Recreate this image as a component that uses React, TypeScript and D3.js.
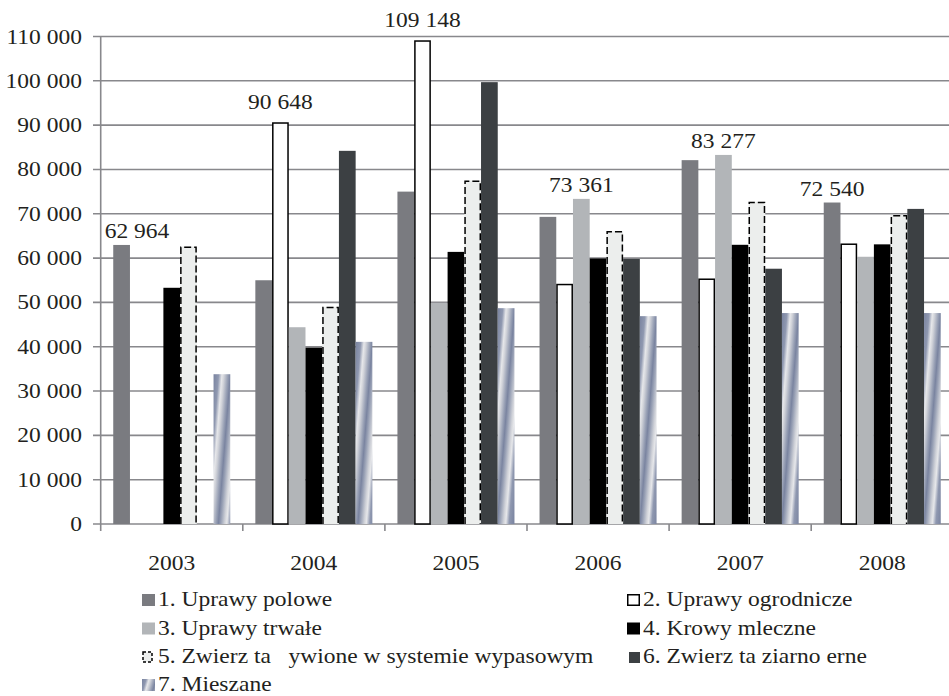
import { useEffect, useRef } from "react";
import * as d3 from "d3";

const years = ["2003", "2004", "2005", "2006", "2007", "2008"];
const seriesNames = [
  "1. Uprawy polowe",
  "2. Uprawy ogrodnicze",
  "3. Uprawy trwałe",
  "4. Krowy mleczne",
  "5. Zwierz ta   ywione w systemie wypasowym",
  "6. Zwierz ta ziarno erne",
  "7. Mieszane",
];
const uprawyPolowe = [62964, 55000, 75000, 69300, 82100, 72540];
const uprawyOgrodnicze = [0, 90648, 109148, 54200, 55400, 63300];
const uprawyTrwale = [0, 44400, 49900, 73361, 83277, 60300];
const krowyMleczne = [53300, 39800, 61400, 59900, 63000, 63100];
const zwierzetaWypas = [62600, 49000, 77500, 66100, 72700, 69700];
const zwierzetaZiarno = [0, 84200, 99700, 59800, 57600, 71100];
const mieszane = [33800, 41100, 48700, 46900, 47600, 47600];
const yTicks = [0, 10000, 20000, 30000, 40000, 50000, 60000, 70000, 80000, 90000, 100000, 110000];

const seriesValues = [
  uprawyPolowe,
  uprawyOgrodnicze,
  uprawyTrwale,
  krowyMleczne,
  zwierzetaWypas,
  zwierzetaZiarno,
  mieszane,
];

const W = 949;
const H = 696;
const SX = 1.12;
const FONT = "Liberation Serif, Tinos, Times New Roman, Times, serif";
const TEXT = "#231f20";
const GRID = "#88888c";
const fills = ["#7a7b80", "#ffffff", "#b2b5b8", "#000000", "#eceeed", "#3c4043", "url(#mix)"];

export default function App() {
  const svgRef = useRef<SVGSVGElement>(null);

  useEffect(() => {
    if (!svgRef.current) return;
    const svg = d3.select(svgRef.current);
    svg.selectAll("*").remove();

    const left = 100.7;
    const step = 142.1;
    const x0 = d3.scaleBand<string>().domain(years).range([left, left + step * years.length]);
    const x1 = d3
      .scaleBand<number>()
      .domain(d3.range(seriesNames.length))
      .range([0, x0.bandwidth()])
      .paddingInner(0)
      .paddingOuter(0.75);
    const y = d3.scaleLinear().domain([0, 110000]).range([524, 36.5]);
    const fmt = (v: number) => d3.format(",")(v).replace(/,/g, " ");

    const defs = svg.append("defs");
    const stops: [number, string][] = [
      [0, "#7a84a0"],
      [0.3, "#8f98b0"],
      [0.5, "#e6e7ea"],
      [0.62, "#d2d4da"],
      [0.85, "#9aa2b6"],
      [1, "#7a84a0"],
    ];
    const addGrad = (id: string, x: number, yy: number, w: number, tilt: number) => {
      const gr = defs
        .append("linearGradient")
        .attr("id", id)
        .attr("gradientUnits", "userSpaceOnUse")
        .attr("x1", x)
        .attr("y1", yy)
        .attr("x2", x + w)
        .attr("y2", yy + w * tilt)
        .attr("spreadMethod", "reflect");
      stops.forEach(([o, c]) => gr.append("stop").attr("offset", o).attr("stop-color", c));
    };

    const text = (
      g: d3.Selection<any, unknown, null, undefined>,
      x: number,
      yy: number,
      s: string,
      anchor: string,
    ) =>
      g
        .append("text")
        .attr("transform", `translate(${x},${yy}) scale(${SX},1)`)
        .attr("text-anchor", anchor)
        .style("font-family", FONT)
        .style("font-size", "21px")
        .attr("fill", TEXT)
        .style("white-space", "pre")
        .text(s);

    // grid + y axis
    const grid = svg.append("g");
    yTicks.forEach((t) => {
      grid
        .append("line")
        .attr("x1", 93)
        .attr("x2", W)
        .attr("y1", y(t))
        .attr("y2", y(t))
        .attr("stroke", GRID)
        .attr("stroke-width", 1.6);
      text(grid, 82, y(t) + 7, fmt(t), "end");
    });
    grid
      .append("line")
      .attr("x1", left)
      .attr("x2", left)
      .attr("y1", y(110000))
      .attr("y2", 531)
      .attr("stroke", GRID)
      .attr("stroke-width", 1.6);
    years.forEach((yr) => {
      const bx = x0(yr)!;
      if (bx > left) {
        grid
          .append("line")
          .attr("x1", bx)
          .attr("x2", bx)
          .attr("y1", 524)
          .attr("y2", 531)
          .attr("stroke", GRID)
          .attr("stroke-width", 1.6);
      }
      text(grid, bx + x0.bandwidth() / 2, 570, yr, "middle");
    });

    // bars
    const bars = svg.append("g");
    years.forEach((yr, yi) => {
      seriesValues.forEach((vals, si) => {
        const v = vals[yi];
        if (!v) return;
        const bx = x0(yr)! + x1(si)!;
        const bw = x1.bandwidth();
        const top = y(v);
        const h = y(0) - top;
        if (si === 1) {
          bars
            .append("rect")
            .attr("x", bx + 0.75)
            .attr("y", top + 0.75)
            .attr("width", bw - 1.5)
            .attr("height", h - 0.75)
            .attr("fill", "#fff")
            .attr("stroke", "#000")
            .attr("stroke-width", 1.5);
        } else if (si === 4) {
          bars.append("rect").attr("x", bx).attr("y", top).attr("width", bw).attr("height", h).attr("fill", fills[si]);
          bars
            .append("path")
            .attr("d", `M${bx + 0.75},${y(0)}V${top + 0.75}H${bx + bw - 0.75}V${y(0)}`)
            .attr("fill", "none")
            .attr("stroke", "#000")
            .attr("stroke-width", 1.5)
            .attr("stroke-dasharray", "7,3");
        } else if (si === 6) {
          addGrad(`mix${yi}`, bx, top, bw, 0.08);
          bars
            .append("rect")
            .attr("x", bx)
            .attr("y", top)
            .attr("width", bw)
            .attr("height", h)
            .attr("fill", `url(#mix${yi})`);
        } else {
          bars
            .append("rect")
            .attr("x", bx)
            .attr("y", top)
            .attr("width", bw)
            .attr("height", h)
            .attr("fill", fills[si]);
        }
      });
    });

    // value labels on the largest bar of each year
    const labels = svg.append("g");
    years.forEach((yr, yi) => {
      const vals = seriesValues.map((s) => s[yi]);
      const si = d3.maxIndex(vals);
      const v = vals[si];
      const cx = x0(yr)! + x1(si)! + x1.bandwidth() / 2;
      const gap = si === 1 ? 13 : 7;
      const t = text(labels, cx, y(v) - gap, fmt(v), "middle");
      const w = (t.node() as SVGTextElement).getComputedTextLength() * SX;
      if (cx - w / 2 < left + 4) {
        t.attr("transform", `translate(${left + 4 + w / 2},${y(v) - gap}) scale(${SX},1)`);
      }
    });

    // legend
    const legend = svg.append("g");
    const cols = [142, 627];
    const rowY = [606, 634.5, 663, 691];
    seriesNames.forEach((name, i) => {
      const cx = cols[i % 2];
      const ry = rowY[Math.floor(i / 2)];
      if (i === 1) {
        legend
          .append("rect")
          .attr("x", cx + 0.75)
          .attr("y", ry - 11.25)
          .attr("width", 11.5)
          .attr("height", 10.5)
          .attr("fill", "#fff")
          .attr("stroke", "#000")
          .attr("stroke-width", 1.5);
      } else if (i === 4) {
        legend
          .append("rect")
          .attr("x", cx + 1)
          .attr("y", ry - 11)
          .attr("width", 9)
          .attr("height", 10)
          .attr("fill", "#eceeed")
          .attr("stroke", "#000")
          .attr("stroke-width", 1.5)
          .attr("stroke-dasharray", "3,2");
      } else if (i === 6) {
        addGrad("mixLegend", cx, ry - 12, 13, 0.3);
        legend
          .append("rect")
          .attr("x", cx)
          .attr("y", ry - 12)
          .attr("width", 13)
          .attr("height", 12)
          .attr("fill", "url(#mixLegend)");
      } else {
        legend
          .append("rect")
          .attr("x", cx + (i === 5 ? 2 : 0))
          .attr("y", ry - 12 + (i === 5 ? 1 : 0))
          .attr("width", i === 5 ? 11 : 13)
          .attr("height", i === 5 ? 11 : 12)
          .attr("fill", fills[i]);
      }
      text(legend, cx + 16, ry, name, "start");
    });
  }, []);

  return (
    <svg
      ref={svgRef}
      width={W}
      height={H}
      style={{ position: "absolute", left: 0, top: 0, background: "#fff" }}
    />
  );
}
